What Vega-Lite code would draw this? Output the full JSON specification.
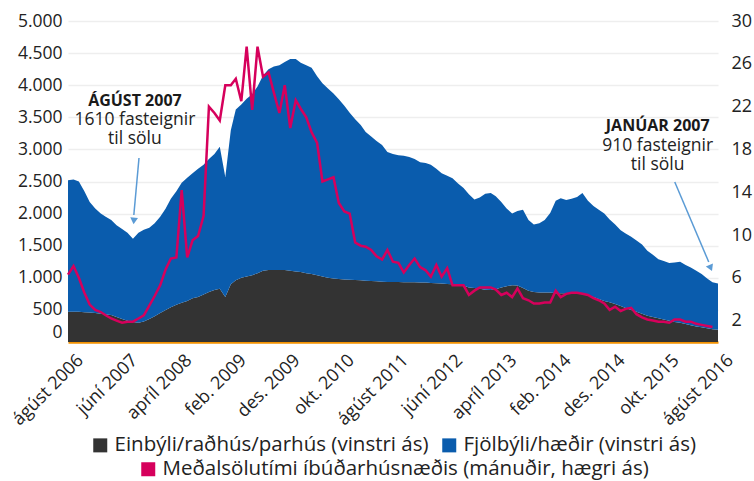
{
  "$schema": "https://vega.github.io/schema/vega-lite/v6.json",
  "width": 650,
  "height": 321,
  "autosize": {"type": "none"},
  "padding": {"left": 68, "top": 21, "right": 36, "bottom": 139},
  "config": {
    "font": "Open Sans",
    "view": {"stroke": null},
    "legend": {"layout": {"bottom": {"anchor": "middle", "direction": "vertical", "center": true, "margin": 3}}}
  },
  "datasets": {
    "main": [
      {"d":"2006-08-01","e":470,"f":2050,"r":6.3},
      {"d":"2006-09-01","e":470,"f":2060,"r":7.1},
      {"d":"2006-10-01","e":470,"f":2030,"r":6.0},
      {"d":"2006-11-01","e":465,"f":1885,"r":4.6},
      {"d":"2006-12-01","e":460,"f":1720,"r":3.5},
      {"d":"2007-01-01","e":450,"f":1630,"r":3.0},
      {"d":"2007-02-01","e":440,"f":1560,"r":2.8},
      {"d":"2007-03-01","e":430,"f":1520,"r":2.5},
      {"d":"2007-04-01","e":420,"f":1480,"r":2.2},
      {"d":"2007-05-01","e":390,"f":1430,"r":2.0},
      {"d":"2007-06-01","e":360,"f":1400,"r":1.8},
      {"d":"2007-07-01","e":330,"f":1370,"r":1.9},
      {"d":"2007-08-01","e":310,"f":1300,"r":1.9},
      {"d":"2007-09-01","e":300,"f":1400,"r":2.2},
      {"d":"2007-10-01","e":320,"f":1430,"r":2.5},
      {"d":"2007-11-01","e":360,"f":1420,"r":3.4},
      {"d":"2007-12-01","e":400,"f":1450,"r":4.3},
      {"d":"2008-01-01","e":450,"f":1500,"r":5.3},
      {"d":"2008-02-01","e":500,"f":1580,"r":6.8},
      {"d":"2008-03-01","e":540,"f":1690,"r":7.8},
      {"d":"2008-04-01","e":580,"f":1770,"r":7.9},
      {"d":"2008-05-01","e":610,"f":1870,"r":14.2},
      {"d":"2008-06-01","e":640,"f":1920,"r":7.9},
      {"d":"2008-07-01","e":680,"f":1950,"r":9.5},
      {"d":"2008-08-01","e":700,"f":2000,"r":9.9},
      {"d":"2008-09-01","e":740,"f":2020,"r":11.8},
      {"d":"2008-10-01","e":780,"f":2070,"r":22.0},
      {"d":"2008-11-01","e":810,"f":2120,"r":21.4},
      {"d":"2008-12-01","e":830,"f":2210,"r":20.7},
      {"d":"2009-01-01","e":700,"f":1870,"r":24.0},
      {"d":"2009-02-01","e":900,"f":2400,"r":24.0},
      {"d":"2009-03-01","e":960,"f":2660,"r":24.6},
      {"d":"2009-04-01","e":1000,"f":2700,"r":22.5},
      {"d":"2009-05-01","e":1020,"f":2770,"r":27.6},
      {"d":"2009-06-01","e":1040,"f":2820,"r":21.7},
      {"d":"2009-07-01","e":1070,"f":2910,"r":27.6},
      {"d":"2009-08-01","e":1110,"f":3040,"r":24.8},
      {"d":"2009-09-01","e":1120,"f":3130,"r":25.2},
      {"d":"2009-10-01","e":1120,"f":3170,"r":23.3},
      {"d":"2009-11-01","e":1120,"f":3190,"r":21.4},
      {"d":"2009-12-01","e":1120,"f":3240,"r":24.0},
      {"d":"2010-01-01","e":1110,"f":3300,"r":20.0},
      {"d":"2010-02-01","e":1100,"f":3310,"r":22.6},
      {"d":"2010-03-01","e":1090,"f":3260,"r":21.8},
      {"d":"2010-04-01","e":1070,"f":3240,"r":21.0},
      {"d":"2010-05-01","e":1060,"f":3210,"r":19.6},
      {"d":"2010-06-01","e":1040,"f":3100,"r":18.6},
      {"d":"2010-07-01","e":1020,"f":3010,"r":15.0},
      {"d":"2010-08-01","e":1000,"f":2950,"r":15.2},
      {"d":"2010-09-01","e":990,"f":2880,"r":15.4},
      {"d":"2010-10-01","e":980,"f":2800,"r":13.0},
      {"d":"2010-11-01","e":975,"f":2705,"r":12.2},
      {"d":"2010-12-01","e":970,"f":2600,"r":12.0},
      {"d":"2011-01-01","e":965,"f":2505,"r":9.3},
      {"d":"2011-02-01","e":960,"f":2420,"r":9.0},
      {"d":"2011-03-01","e":955,"f":2315,"r":8.9},
      {"d":"2011-04-01","e":950,"f":2250,"r":8.6},
      {"d":"2011-05-01","e":945,"f":2185,"r":8.0},
      {"d":"2011-06-01","e":940,"f":2130,"r":7.7},
      {"d":"2011-07-01","e":935,"f":2025,"r":8.6},
      {"d":"2011-08-01","e":935,"f":1995,"r":7.5},
      {"d":"2011-09-01","e":935,"f":1975,"r":7.4},
      {"d":"2011-10-01","e":930,"f":1970,"r":6.5},
      {"d":"2011-11-01","e":930,"f":1950,"r":7.2},
      {"d":"2011-12-01","e":930,"f":1920,"r":7.8},
      {"d":"2012-01-01","e":925,"f":1875,"r":7.0},
      {"d":"2012-02-01","e":925,"f":1865,"r":6.7},
      {"d":"2012-03-01","e":920,"f":1840,"r":6.1},
      {"d":"2012-04-01","e":915,"f":1785,"r":7.2},
      {"d":"2012-05-01","e":910,"f":1720,"r":6.1},
      {"d":"2012-06-01","e":905,"f":1685,"r":6.9},
      {"d":"2012-07-01","e":900,"f":1650,"r":5.3},
      {"d":"2012-08-01","e":895,"f":1575,"r":5.3},
      {"d":"2012-09-01","e":880,"f":1520,"r":5.3},
      {"d":"2012-10-01","e":850,"f":1450,"r":4.4},
      {"d":"2012-11-01","e":840,"f":1380,"r":4.8},
      {"d":"2012-12-01","e":830,"f":1420,"r":5.1},
      {"d":"2013-01-01","e":815,"f":1495,"r":5.1},
      {"d":"2013-02-01","e":810,"f":1510,"r":5.1},
      {"d":"2013-03-01","e":820,"f":1450,"r":4.9},
      {"d":"2013-04-01","e":850,"f":1330,"r":4.4},
      {"d":"2013-05-01","e":870,"f":1210,"r":4.6},
      {"d":"2013-06-01","e":885,"f":1115,"r":4.2},
      {"d":"2013-07-01","e":880,"f":1160,"r":5.0},
      {"d":"2013-08-01","e":840,"f":1220,"r":4.1},
      {"d":"2013-09-01","e":800,"f":1100,"r":3.9},
      {"d":"2013-10-01","e":780,"f":1050,"r":3.6},
      {"d":"2013-11-01","e":770,"f":1080,"r":3.6},
      {"d":"2013-12-01","e":770,"f":1130,"r":3.7},
      {"d":"2014-01-01","e":770,"f":1240,"r":3.7},
      {"d":"2014-02-01","e":760,"f":1440,"r":4.8},
      {"d":"2014-03-01","e":760,"f":1480,"r":4.2},
      {"d":"2014-04-01","e":760,"f":1450,"r":4.5},
      {"d":"2014-05-01","e":760,"f":1470,"r":4.6},
      {"d":"2014-06-01","e":760,"f":1500,"r":4.6},
      {"d":"2014-07-01","e":750,"f":1570,"r":4.5},
      {"d":"2014-08-01","e":720,"f":1480,"r":4.4},
      {"d":"2014-09-01","e":700,"f":1420,"r":4.1},
      {"d":"2014-10-01","e":670,"f":1390,"r":3.9},
      {"d":"2014-11-01","e":640,"f":1360,"r":3.6},
      {"d":"2014-12-01","e":620,"f":1290,"r":3.0},
      {"d":"2015-01-01","e":590,"f":1240,"r":3.3},
      {"d":"2015-02-01","e":560,"f":1180,"r":2.9},
      {"d":"2015-03-01","e":530,"f":1160,"r":3.1},
      {"d":"2015-04-01","e":500,"f":1140,"r":3.2},
      {"d":"2015-05-01","e":470,"f":1110,"r":2.6},
      {"d":"2015-06-01","e":440,"f":1080,"r":2.3},
      {"d":"2015-07-01","e":410,"f":1010,"r":2.1},
      {"d":"2015-08-01","e":390,"f":970,"r":2.0},
      {"d":"2015-09-01","e":370,"f":920,"r":1.9},
      {"d":"2015-10-01","e":350,"f":910,"r":1.9},
      {"d":"2015-11-01","e":330,"f":900,"r":1.8},
      {"d":"2015-12-01","e":310,"f":930,"r":2.1},
      {"d":"2016-01-01","e":300,"f":950,"r":2.1},
      {"d":"2016-02-01","e":280,"f":920,"r":1.9},
      {"d":"2016-03-01","e":260,"f":900,"r":1.9},
      {"d":"2016-04-01","e":240,"f":870,"r":1.7},
      {"d":"2016-05-01","e":230,"f":830,"r":1.6},
      {"d":"2016-06-01","e":215,"f":775,"r":1.5},
      {"d":"2016-07-01","e":200,"f":730,"r":1.4},
      {"d":"2016-08-01","e":190,"f":720,"r":null}
    ],
    "notes": [
      {"d":"2007-08-12","v":3750,"t":"ÁGÚST 2007","w":"b"},
      {"d":"2007-08-12","v":3455,"t":"1610 fasteignir","w":"n"},
      {"d":"2007-08-12","v":3160,"t":"til sölu","w":"n"},
      {"d":"2015-08-28","v":3360,"t":"JANÚAR 2007","w":"b"},
      {"d":"2015-08-28","v":3055,"t":"910 fasteignir","w":"n"},
      {"d":"2015-08-28","v":2755,"t":"til sölu","w":"n"}
    ],
    "arrows": [
      {"d":"2007-09-04","v":2866,"d2":"2007-08-06","v2":1978},
      {"d":"2015-12-02","v":2492,"d2":"2016-06-10","v2":1246}
    ],
    "headLeft": [{"d":"2007-08-06","v":1885}],
    "headRight": [{"d":"2016-06-21","v":1153}]
  },
  "layer": [
    {
      "encoding": {
        "x": {
          "field": "d", "type": "temporal",
          "scale": {"type": "utc", "domain": [{"year": 2006, "month": 8, "date": 1, "utc": true}, {"year": 2016, "month": 8, "date": 1, "utc": true}]},
          "axis": {
            "title": null,
            "values": [
              {"year": 2006, "month": 8, "date": 1, "utc": true},
              {"year": 2007, "month": 6, "date": 1, "utc": true},
              {"year": 2008, "month": 4, "date": 1, "utc": true},
              {"year": 2009, "month": 2, "date": 1, "utc": true},
              {"year": 2009, "month": 12, "date": 1, "utc": true},
              {"year": 2010, "month": 10, "date": 1, "utc": true},
              {"year": 2011, "month": 8, "date": 1, "utc": true},
              {"year": 2012, "month": 6, "date": 1, "utc": true},
              {"year": 2013, "month": 4, "date": 1, "utc": true},
              {"year": 2014, "month": 2, "date": 1, "utc": true},
              {"year": 2014, "month": 12, "date": 1, "utc": true},
              {"year": 2015, "month": 10, "date": 1, "utc": true},
              {"year": 2016, "month": 8, "date": 1, "utc": true}
            ],
            "labelExpr": "['jan.','feb.','mars','apríl','maí','júní','júlí','ágúst','sept.','okt.','nóv.','des.'][utcmonth(datum.value)] + ' ' + utcyear(datum.value)",
            "labelAngle": -45,
            "labelFontSize": 18,
            "labelColor": "#222222",
            "labelPadding": 9,
            "labelOffset": 6,
            "labelFlush": false,
            "labelOverlap": false,
            "ticks": false,
            "grid": false,
            "domainColor": "#f39200",
            "domainWidth": 2.5
          }
        },
        "y": {
          "field": "v", "type": "quantitative",
          "scale": {"domain": [0, 5000], "nice": false},
          "axis": {
            "title": null,
            "values": [0, 500, 1000, 1500, 2000, 2500, 3000, 3500, 4000, 4500, 5000],
            "labelExpr": "replace(format(datum.value, ','), ',', '.')",
            "labelFontSize": 17.5,
            "labelColor": "#222222",
            "labelPadding": 6,
            "labelOverlap": false,
            "labelFlush": false,
            "labelOffset": {"condition": {"test": "datum.value == 0", "value": -10}, "value": 0},
            "ticks": false,
            "domain": false,
            "grid": true,
            "gridColor": "#eeeeee",
            "gridWidth": 1.5
          }
        }
      },
      "layer": [
        {
          "data": {"name": "main"},
          "transform": [{"fold": ["e", "f"], "as": ["k", "v"]}],
          "mark": {"type": "area", "interpolate": "linear"},
          "encoding": {
            "y": {
              "field": "v", "type": "quantitative", "stack": "zero",
              "scale": {"domain": [0, 5000], "nice": false},
              "axis": {
                "title": null,
                "values": [0, 500, 1000, 1500, 2000, 2500, 3000, 3500, 4000, 4500, 5000],
                "labelExpr": "replace(format(datum.value, ','), ',', '.')",
                "labelFontSize": 17.5,
                "labelColor": "#222222",
                "labelPadding": 6,
                "labelOverlap": false,
                "labelFlush": false,
                "labelOffset": {"condition": {"test": "datum.value == 0", "value": -10}, "value": 0},
                "ticks": false,
                "domain": false,
                "grid": true,
                "gridColor": "#eeeeee",
                "gridWidth": 1.5
              }
            },
            "color": {
              "field": "k", "type": "nominal",
              "scale": {"domain": ["e", "f"], "range": ["#333333", "#0a5cad"]},
              "legend": {
                "orient": "bottom", "direction": "horizontal", "title": null,
                "symbolType": "square", "symbolSize": 196, "symbolStrokeWidth": 0,
                "labelFontSize": 20.5, "labelColor": "#222222", "labelLimit": 600,
                "labelOffset": 4, "columnPadding": 10, "offset": 6,
                "labelExpr": "datum.label == 'e' ? 'Einbýli/raðhús/parhús (vinstri ás)' : 'Fjölbýli/hæðir (vinstri ás)'"
              }
            },
            "order": {"field": "k", "type": "nominal", "sort": "ascending"}
          }
        },
        {
          "data": {"name": "notes"},
          "transform": [{"filter": "datum.w == 'b'"}],
          "mark": {"type": "text", "fontWeight": "bold", "fontSize": 16, "color": "#1a1a1a", "align": "center", "baseline": "middle"},
          "encoding": {"text": {"field": "t"}}
        },
        {
          "data": {"name": "notes"},
          "transform": [{"filter": "datum.w == 'n'"}],
          "mark": {"type": "text", "fontSize": 17.5, "color": "#222222", "align": "center", "baseline": "middle"},
          "encoding": {"text": {"field": "t"}}
        },
        {
          "data": {"name": "arrows"},
          "mark": {"type": "rule", "color": "#5b9bd5", "strokeWidth": 1.5},
          "encoding": {
            "x2": {"field": "d2"},
            "y2": {"field": "v2"}
          }
        },
        {
          "data": {"name": "headLeft"},
          "mark": {"type": "point", "shape": "triangle-down", "filled": true, "size": 60, "color": "#5b9bd5", "opacity": 1, "angle": 5},
          "encoding": {}
        },
        {
          "data": {"name": "headRight"},
          "mark": {"type": "point", "shape": "triangle-down", "filled": true, "size": 60, "color": "#5b9bd5", "opacity": 1, "angle": -23},
          "encoding": {}
        }
      ]
    },
    {
      "data": {"name": "main"},
      "mark": {"type": "line", "strokeWidth": 2.5, "interpolate": "linear"},
      "encoding": {
        "x": {"field": "d", "type": "temporal"},
        "y": {
          "field": "r", "type": "quantitative",
          "scale": {"domain": [0, 30], "nice": false},
          "axis": {
            "orient": "right", "title": null,
            "values": [2, 6, 10, 14, 18, 22, 26, 30],
            "labelFontSize": 18, "labelColor": "#222222", "labelPadding": 13,
            "labelOverlap": false, "labelFlush": false,
            "ticks": false, "domain": false, "grid": false
          }
        },
        "stroke": {
          "datum": "Meðalsölutími íbúðarhúsnæðis (mánuðir, hægri ás)", "type": "nominal",
          "scale": {"range": ["#d6005c"]},
          "legend": {
            "orient": "bottom", "title": null,
            "symbolType": "square", "symbolSize": 196,
            "symbolFillColor": "#d6005c", "symbolStrokeColor": "#d6005c", "symbolStrokeWidth": 0,
            "labelFontSize": 20.5, "labelColor": "#222222", "labelLimit": 600, "labelOffset": 4, "offset": 6
          }
        }
      }
    }
  ],
  "resolve": {"scale": {"y": "independent"}}
}
